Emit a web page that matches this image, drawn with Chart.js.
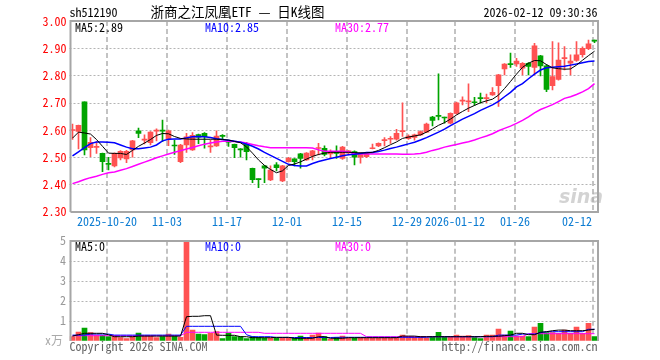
<!DOCTYPE html>
<html>
<head>
<meta charset="utf-8">
<script src="https://cdn.jsdelivr.net/npm/chart.js@4.4.1/dist/chart.umd.min.js"></script>
<style>
html, body { margin: 0; padding: 0; background: #fff; }
#wrap { position: relative; width: 660px; height: 360px; }
#k { position: absolute; left: 0; top: 0; }
#v { position: absolute; left: 0; top: 235px; }
</style>
</head>
<body>
<div id="wrap">
  <canvas id="k" width="660" height="235"></canvas>
  <canvas id="v" width="660" height="125"></canvas>
</div>
<script>
// 浙商之江凤凰ETF 日K线 (sh512190)

const dates = [
  '2025-10-10','2025-10-13','2025-10-14','2025-10-15','2025-10-16','2025-10-17',
  '2025-10-20','2025-10-21','2025-10-22','2025-10-23','2025-10-24',
  '2025-10-27','2025-10-28','2025-10-29','2025-10-30','2025-10-31',
  '2025-11-03','2025-11-04','2025-11-05','2025-11-06','2025-11-07',
  '2025-11-10','2025-11-11','2025-11-12','2025-11-13','2025-11-14',
  '2025-11-17','2025-11-18','2025-11-19','2025-11-20','2025-11-21',
  '2025-11-24','2025-11-25','2025-11-26','2025-11-27','2025-11-28',
  '2025-12-01','2025-12-02','2025-12-03','2025-12-04','2025-12-05',
  '2025-12-08','2025-12-09','2025-12-10','2025-12-11','2025-12-12',
  '2025-12-15','2025-12-16','2025-12-17','2025-12-18','2025-12-19',
  '2025-12-22','2025-12-23','2025-12-24','2025-12-25','2025-12-26',
  '2025-12-29','2025-12-30','2025-12-31',
  '2026-01-05','2026-01-06','2026-01-07','2026-01-08','2026-01-09',
  '2026-01-12','2026-01-13','2026-01-14','2026-01-15','2026-01-16',
  '2026-01-19','2026-01-20','2026-01-21','2026-01-22','2026-01-23',
  '2026-01-26','2026-01-27','2026-01-28','2026-01-29','2026-01-30',
  '2026-02-02','2026-02-03','2026-02-04','2026-02-05','2026-02-06',
  '2026-02-09','2026-02-10','2026-02-11','2026-02-12'
];

// 横轴上显示的日期
const tickDates = ['2025-10-20','2025-11-03','2025-11-17','2025-12-01','2025-12-15','2025-12-29','2026-01-12','2026-01-26','2026-02-12'];
const tickText  = ['2025-10-20','11-03','11-17','12-01','12-15','12-29','2026-01-12','01-26','02-12'];

const priceTicks = [2.30, 2.40, 2.50, 2.60, 2.70, 2.80, 2.90, 3.00];
const volTicks = [1, 2, 3, 4, 5];

const opens = [
  2.598,2.595,2.703,2.535,2.536,2.514,2.477,2.468,2.497,2.494,
  2.527,2.597,2.563,2.553,2.596,2.599,2.567,2.544,2.484,2.545,
  2.527,2.583,2.588,2.538,2.541,2.580,2.558,2.547,2.531,2.551,
  2.459,2.421,2.468,2.417,2.472,2.413,2.484,2.494,2.512,2.490,
  2.505,2.532,2.533,2.512,2.516,2.496,2.520,2.521,2.500,2.502,
  2.531,2.541,2.561,2.566,2.566,2.594,2.568,2.573,2.582,2.592,
  2.647,2.652,2.646,2.625,2.661,2.706,2.703,2.703,2.717,2.715,
  2.729,2.763,2.824,2.842,2.842,2.827,2.845,2.830,2.872,2.835,
  2.763,2.786,2.862,2.845,2.855,2.876,2.898,2.928
];
const highs = [
  2.622,2.618,2.703,2.572,2.557,2.515,2.500,2.516,2.524,2.525,
  2.562,2.607,2.582,2.594,2.604,2.636,2.600,2.563,2.547,2.588,
  2.590,2.585,2.590,2.563,2.597,2.583,2.560,2.548,2.532,2.555,
  2.460,2.421,2.470,2.468,2.480,2.470,2.500,2.495,2.514,2.517,
  2.525,2.551,2.542,2.527,2.542,2.540,2.524,2.523,2.517,2.514,
  2.548,2.553,2.572,2.576,2.602,2.700,2.582,2.585,2.597,2.625,
  2.650,2.806,2.647,2.663,2.702,2.722,2.769,2.720,2.735,2.732,
  2.756,2.804,2.844,2.882,2.863,2.847,2.847,2.918,2.874,2.840,
  2.924,2.920,2.906,2.876,2.924,2.905,2.930,2.930
];
const lows = [
  2.565,2.530,2.508,2.502,2.514,2.447,2.453,2.464,2.490,2.480,
  2.500,2.572,2.549,2.545,2.560,2.557,2.542,2.510,2.480,2.518,
  2.525,2.550,2.533,2.518,2.540,2.565,2.540,2.498,2.500,2.490,
  2.407,2.388,2.407,2.414,2.450,2.410,2.482,2.468,2.460,2.488,
  2.490,2.508,2.505,2.496,2.496,2.492,2.508,2.472,2.478,2.498,
  2.530,2.539,2.541,2.551,2.563,2.576,2.565,2.563,2.580,2.590,
  2.615,2.637,2.625,2.622,2.658,2.692,2.667,2.690,2.698,2.700,
  2.727,2.686,2.802,2.830,2.833,2.802,2.802,2.802,2.798,2.741,
  2.747,2.783,2.820,2.802,2.852,2.867,2.895,2.920
];
const closes = [
  2.600,2.617,2.527,2.555,2.540,2.484,2.474,2.514,2.522,2.522,
  2.560,2.587,2.567,2.592,2.599,2.596,2.597,2.541,2.545,2.575,
  2.580,2.574,2.575,2.540,2.578,2.576,2.555,2.535,2.527,2.520,
  2.418,2.418,2.460,2.453,2.462,2.468,2.496,2.484,2.496,2.515,
  2.523,2.534,2.510,2.521,2.514,2.537,2.522,2.500,2.515,2.512,
  2.533,2.551,2.563,2.569,2.588,2.598,2.578,2.582,2.594,2.622,
  2.635,2.650,2.644,2.661,2.700,2.709,2.705,2.700,2.715,2.717,
  2.738,2.802,2.842,2.840,2.853,2.845,2.833,2.909,2.835,2.749,
  2.796,2.857,2.864,2.853,2.876,2.900,2.916,2.926
];

const ma5 = [
  2.570,2.592,2.589,2.585,2.565,2.540,2.515,2.514,2.514,2.510,
  2.525,2.540,2.552,2.565,2.580,2.587,2.586,2.576,2.569,2.567,
  2.566,2.566,2.566,2.566,2.566,2.565,2.563,2.558,2.553,2.538,
  2.515,2.490,2.470,2.455,2.443,2.450,2.470,2.475,2.483,2.493,
  2.503,2.510,2.515,2.518,2.518,2.518,2.518,2.517,2.516,2.516,
  2.518,2.525,2.535,2.546,2.556,2.569,2.574,2.578,2.582,2.592,
  2.604,2.617,2.627,2.640,2.655,2.668,2.680,2.690,2.700,2.707,
  2.713,2.728,2.752,2.778,2.805,2.830,2.845,2.855,2.854,2.840,
  2.828,2.825,2.823,2.824,2.838,2.856,2.873,2.889
];
const ma10 = [
  2.505,2.520,2.535,2.550,2.556,2.556,2.555,2.553,2.545,2.537,
  2.531,2.531,2.534,2.537,2.545,2.560,2.566,2.567,2.567,2.571,
  2.575,2.576,2.575,2.572,2.568,2.565,2.562,2.559,2.555,2.548,
  2.540,2.530,2.518,2.507,2.496,2.485,2.474,2.470,2.468,2.468,
  2.477,2.484,2.490,2.495,2.500,2.505,2.509,2.511,2.514,2.517,
  2.517,2.521,2.526,2.532,2.537,2.543,2.549,2.555,2.563,2.572,
  2.582,2.592,2.603,2.616,2.628,2.640,2.650,2.660,2.672,2.682,
  2.692,2.705,2.722,2.738,2.758,2.770,2.788,2.805,2.820,2.828,
  2.830,2.832,2.834,2.838,2.842,2.847,2.851,2.853
];
const ma30 = [
  2.403,2.410,2.418,2.425,2.430,2.437,2.443,2.446,2.452,2.458,
  2.466,2.474,2.482,2.490,2.498,2.505,2.512,2.518,2.524,2.530,
  2.536,2.542,2.548,2.552,2.556,2.559,2.559,2.558,2.556,2.552,
  2.547,2.542,2.538,2.535,2.535,2.535,2.535,2.535,2.535,2.535,
  2.534,2.527,2.522,2.522,2.522,2.522,2.520,2.513,2.512,2.512,
  2.512,2.512,2.512,2.512,2.512,2.511,2.511,2.512,2.514,2.518,
  2.525,2.530,2.537,2.542,2.547,2.552,2.557,2.563,2.571,2.578,
  2.586,2.597,2.606,2.614,2.624,2.635,2.648,2.663,2.675,2.684,
  2.693,2.704,2.716,2.722,2.730,2.740,2.752,2.770
];

// 成交量（万）
const volume = [
  0.20,0.43,0.63,0.40,0.28,0.27,0.20,0.25,0.15,0.10,
  0.20,0.38,0.23,0.23,0.15,0.20,0.33,0.23,0.17,4.95,
  0.53,0.33,0.30,0.37,0.45,0.10,0.38,0.20,0.20,0.10,
  0.20,0.17,0.13,0.12,0.12,0.15,0.12,0.12,0.23,0.15,
  0.28,0.38,0.20,0.08,0.17,0.23,0.12,0.13,0.15,0.12,
  0.13,0.12,0.15,0.13,0.17,0.28,0.20,0.17,0.20,0.13,
  0.17,0.42,0.17,0.20,0.28,0.23,0.25,0.15,0.10,0.28,
  0.28,0.58,0.28,0.48,0.23,0.23,0.20,0.68,0.87,0.40,
  0.40,0.37,0.53,0.37,0.68,0.37,0.87,0.20
];
const vma5 = [
  0.23,0.30,0.37,0.37,0.37,0.37,0.30,0.20,0.20,0.20,
  0.20,0.23,0.23,0.23,0.23,0.23,0.23,0.23,0.23,1.20,
  1.22,1.22,1.25,1.25,0.28,0.27,0.27,0.27,0.20,0.20,
  0.15,0.15,0.15,0.15,0.17,0.17,0.17,0.12,0.12,0.12,
  0.12,0.20,0.20,0.12,0.12,0.12,0.15,0.15,0.15,0.15,
  0.15,0.15,0.15,0.15,0.15,0.23,0.23,0.23,0.20,0.20,
  0.20,0.20,0.20,0.20,0.20,0.20,0.20,0.20,0.20,0.22,
  0.22,0.22,0.25,0.28,0.37,0.37,0.30,0.30,0.42,0.45,
  0.50,0.53,0.53,0.50,0.50,0.50,0.53,0.57
];
const vma10 = [
  0.28,0.28,0.28,0.33,0.33,0.33,0.33,0.28,0.28,0.28,
  0.28,0.28,0.28,0.28,0.28,0.28,0.28,0.28,0.28,0.72,
  0.72,0.72,0.72,0.72,0.72,0.72,0.72,0.72,0.72,0.30,
  0.20,0.20,0.20,0.20,0.16,0.16,0.16,0.16,0.16,0.16,
  0.16,0.16,0.16,0.16,0.17,0.17,0.17,0.17,0.17,0.17,
  0.17,0.17,0.17,0.17,0.17,0.17,0.17,0.17,0.17,0.17,
  0.20,0.20,0.20,0.20,0.20,0.20,0.20,0.20,0.20,0.20,
  0.20,0.28,0.28,0.28,0.28,0.33,0.33,0.33,0.40,0.45,
  0.45,0.45,0.45,0.45,0.45,0.45,0.57,0.57
];
const vma30 = [
  0.25,0.25,0.25,0.25,0.25,0.25,0.25,0.25,0.25,0.25,
  0.25,0.25,0.25,0.25,0.25,0.25,0.25,0.25,0.25,0.42,
  0.42,0.42,0.42,0.42,0.42,0.42,0.42,0.42,0.42,0.42,
  0.42,0.42,0.37,0.37,0.37,0.37,0.37,0.37,0.37,0.37,
  0.37,0.37,0.37,0.37,0.37,0.37,0.37,0.37,0.37,0.20,
  0.20,0.20,0.20,0.20,0.20,0.20,0.20,0.20,0.20,0.20,
  0.20,0.20,0.20,0.20,0.20,0.20,0.20,0.20,0.20,0.20,
  0.20,0.20,0.20,0.20,0.20,0.20,0.35,0.35,0.35,0.35,
  0.35,0.35,0.35,0.35,0.35,0.35,0.35,0.35
];

const RED = '#ff5252';
const GREEN = '#00a400';
const MONO = '"Noto Sans Mono CJK SC", "DejaVu Sans Mono", monospace';
const candleColors = closes.map((c, i) => c >= opens[i] ? RED : GREEN);

function txt(ctx, s, x, y, color, align, font) {
    ctx.font = font || ('12px ' + MONO);
    ctx.fillStyle = color;
    ctx.textAlign = align || 'left';
    ctx.textBaseline = 'middle';
    ctx.fillText(s, x, y);
}

// 网格：横向点线 + 日期竖向虚线
function drawGrid(chart, values) {
    const { ctx, chartArea: a, scales: { x, y } } = chart;
    ctx.save();
    ctx.strokeStyle = '#b4b4b4';
    ctx.lineWidth = 1;
    ctx.setLineDash([2, 2]);
    values.forEach(v => {
        if (v <= y.min || v >= y.max) return;
        const py = Math.round(y.getPixelForValue(v)) + 0.5;
        ctx.beginPath(); ctx.moveTo(a.left, py); ctx.lineTo(a.right, py); ctx.stroke();
    });
    ctx.setLineDash([5, 3]);
    ctx.lineWidth = 1.5;
    ctx.strokeStyle = '#b0b0b0';
    tickDates.forEach(d => {
        const px = Math.round(x.getPixelForValue(dates.indexOf(d))) - 2;
        ctx.beginPath(); ctx.moveTo(px, a.top); ctx.lineTo(px, a.bottom); ctx.stroke();
    });
    ctx.restore();
}

function drawFrame(chart, bottom) {
    const { ctx, chartArea: a } = chart;
    ctx.save();
    ctx.strokeStyle = '#a6a6a6';
    ctx.lineWidth = 2;
    const l = a.left + 1, r = a.right + 0.5, t = Math.round(a.top), b = Math.round(a.bottom);
    ctx.beginPath();
    if (bottom) {
        ctx.moveTo(l, b); ctx.lineTo(l, t); ctx.lineTo(r, t); ctx.lineTo(r, b); ctx.lineTo(l, b);
    } else {
        ctx.moveTo(l, b); ctx.lineTo(l, t); ctx.lineTo(r, t); ctx.lineTo(r, b);
    }
    ctx.stroke();
    ctx.restore();
}

const kPlugin = {
    id: 'kPlugin',
    beforeDatasetsDraw(chart) {
        drawGrid(chart, priceTicks);
        // 水印
        const { ctx } = chart;
        ctx.save();
        txt(ctx, 'sina', 581, 198, 'rgba(175,175,175,0.55)', 'center', 'italic bold 19px "DejaVu Sans", sans-serif');
        ctx.restore();
    },
    afterDatasetsDraw(chart) {
        const { ctx, chartArea: a, scales: { x, y } } = chart;
        drawFrame(chart, true);
        ctx.save();
        // 价格刻度
        priceTicks.forEach(v => {
            txt(ctx, v.toFixed(2), 66.5, y.getPixelForValue(v), '#ff0000', 'right');
        });
        // 日期
        tickDates.forEach((d, k) => {
            const px = Math.round(x.getPixelForValue(dates.indexOf(d))) - 2;
            const last = k === tickDates.length - 1;
            txt(ctx, tickText[k], last ? px - 1 : px, a.bottom + 10, '#0a7bd2', last ? 'right' : 'center');
        });
        // 均线图例
        const n = closes.length - 1;
        txt(ctx, 'MA5:' + ma5[n].toFixed(2), 75, a.top + 6, '#000000');
        txt(ctx, 'MA10:' + ma10[n].toFixed(2), 205, a.top + 6, '#0000ff');
        txt(ctx, 'MA30:' + ma30[n].toFixed(2), 335, a.top + 6, '#ff00ff');
        // 标题
        txt(ctx, 'sh512190', 69.5, 12, '#000000');
        txt(ctx, '浙商之江凤凰ETF — 日K线图', 150.5, 12, '#000000', 'left', '13.5px ' + MONO);
        txt(ctx, '2026-02-12 09:30:36', 597.5, 12, '#000000', 'right');
        ctx.restore();
    }
};

const vPlugin = {
    id: 'vPlugin',
    beforeDatasetsDraw(chart) {
        drawGrid(chart, volTicks);
    },
    afterDatasetsDraw(chart) {
        const { ctx, chartArea: a, scales: { y } } = chart;
        drawFrame(chart, false);
        ctx.save();
        volTicks.forEach(v => {
            txt(ctx, String(v), 66, y.getPixelForValue(v), '#999999', 'right');
        });
        txt(ctx, 'x万', 63, y.getPixelForValue(0), '#aaaaaa', 'right');
        txt(ctx, 'MA5:0', 75, a.top + 6, '#000000');
        txt(ctx, 'MA10:0', 205, a.top + 6, '#0000ff');
        txt(ctx, 'MA30:0', 335, a.top + 6, '#ff00ff');
        txt(ctx, 'Copyright 2026 SINA.COM', 69.5, a.bottom + 5.5, '#666666');
        txt(ctx, 'http://finance.sina.com.cn', 597.5, a.bottom + 5.5, '#666666', 'right');
        ctx.restore();
    }
};

function lineSet(data, color, width, order) {
    return { type: 'line', data: data, borderColor: color, borderWidth: width,
             pointRadius: 0, tension: 0, fill: false, order: order };
}

const baseOptions = {
    responsive: false,
    animation: false,
    devicePixelRatio: 1,
    events: [],
    plugins: { legend: { display: false }, tooltip: { enabled: false } }
};

new Chart(document.getElementById('k').getContext('2d'), {
    type: 'bar',
    data: {
        labels: dates,
        datasets: [
            lineSet(ma5, '#000000', 1, 0),
            lineSet(ma10, '#0000ff', 1.5, 1),
            lineSet(ma30, '#ff00ff', 1.5, 2),
            {
                data: opens.map((o, i) => [o, closes[i]]),
                backgroundColor: candleColors,
                barThickness: 5, minBarLength: 1, grouped: false, order: 3
            },
            {
                data: lows.map((l, i) => [l, highs[i]]),
                backgroundColor: candleColors,
                barThickness: 1, grouped: false, order: 4
            }
        ]
    },
    options: Object.assign({}, baseOptions, {
        layout: { padding: { left: 69.5, right: 62.5, top: 21, bottom: 23.3 } },
        scales: {
            x: { type: 'category', offset: true, display: false },
            y: { min: 2.30, max: 3.00, display: false }
        }
    }),
    plugins: [kPlugin]
});

new Chart(document.getElementById('v').getContext('2d'), {
    type: 'bar',
    data: {
        labels: dates,
        datasets: [
            lineSet(vma5, '#000000', 1, 0),
            lineSet(vma10, '#0000ff', 1, 1),
            lineSet(vma30, '#ff00ff', 1, 2),
            {
                data: volume,
                backgroundColor: candleColors,
                barThickness: 5, grouped: false, order: 3
            }
        ]
    },
    options: Object.assign({}, baseOptions, {
        layout: { padding: { left: 69.5, right: 62.5, top: 5.7, bottom: 19.3 } },
        scales: {
            x: { type: 'category', offset: true, display: false },
            y: { min: 0, max: 5, display: false }
        }
    }),
    plugins: [vPlugin]
});
</script>
</body>
</html>
